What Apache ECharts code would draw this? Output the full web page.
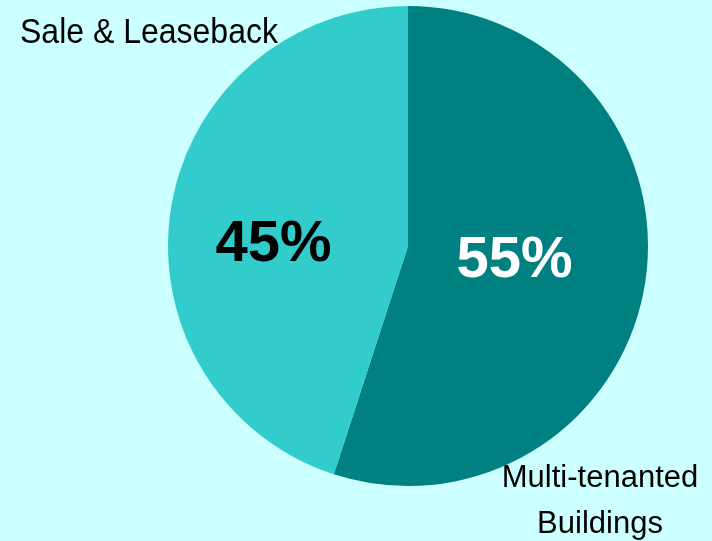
<!DOCTYPE html>
<html><head><meta charset="utf-8">
<script src="https://cdn.jsdelivr.net/npm/echarts@6/dist/echarts.min.js"></script>
<style>html,body{margin:0;padding:0;background:#CCFFFF;}#c{width:712px;height:541px;}</style>
</head><body><div id="c"></div>
<script>
const categories = ['Multi-tenanted Buildings', 'Sale & Leaseback'];
const values = [55, 45];
const sliceColors = ['#008080', '#33CCCC'];
const labelColors = ['#FFFFFF', '#000000'];

const chart = echarts.init(document.getElementById('c'), null, {renderer: 'canvas'});
const FONT = '"Liberation Sans", Arial, sans-serif';
chart.setOption({
  backgroundColor: '#CCFFFF',
  animation: false,
  graphic: [
    {type: 'text', left: 20, top: 16, scaleY: 1.08, style: {text: 'Sale & Leaseback', font: '32px ' + FONT, fill: '#000'}},
    {type: 'text', style: {text: 'Multi-tenanted\nBuildings', x: 600, y: 501, align: 'center', verticalAlign: 'middle', font: '31px ' + FONT, lineHeight: 46, fill: '#000'}}
  ],
  series: [{
    type: 'pie',
    center: [408, 246],
    radius: [0, 240],
    startAngle: 90,
    clockwise: true,
    silent: true,
    data: categories.map((c, i) => ({
      name: c, value: values[i],
      itemStyle: {color: sliceColors[i]},
      label: {color: labelColors[i]}
    })),
    label: {
      show: true, position: 'inside',
      formatter: p => p.value + '%',
      fontFamily: FONT, fontWeight: 'bold', fontSize: 58
    },
    labelLayout: p => p.dataIndex === 0 ? {dx: -15, dy: -4} : {dx: -13, dy: 18},
    labelLine: {show: false}
  }]
});
</script></body></html>
